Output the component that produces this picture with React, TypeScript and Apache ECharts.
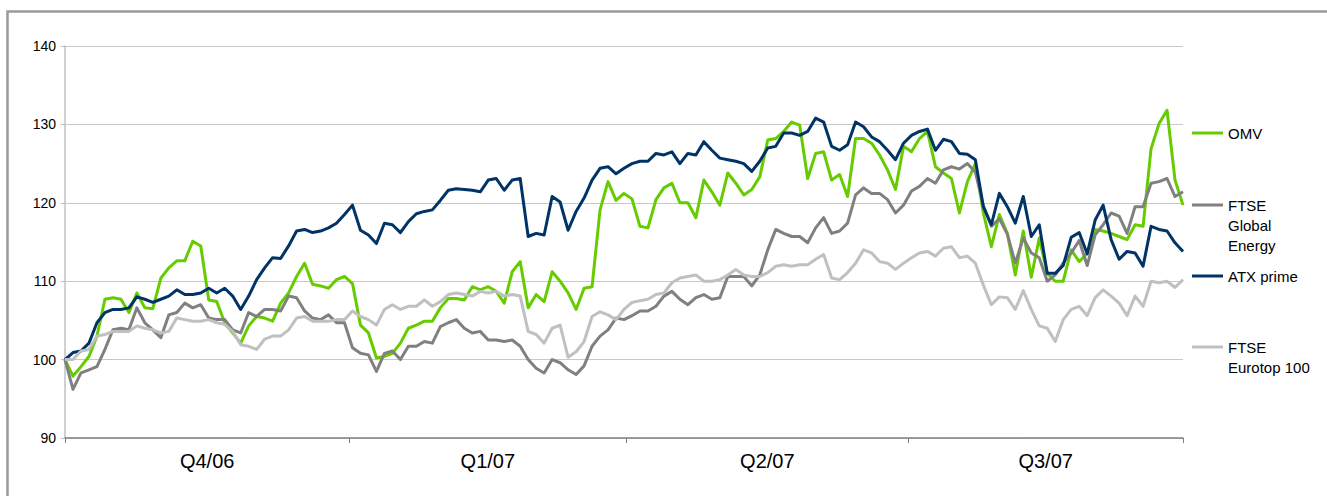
import React, { useEffect, useRef } from "react";
import * as echarts from "echarts";

const quarters = ["Q4/06", "Q1/07", "Q2/07", "Q3/07"];
// trading-day index where each quarter starts (last value = end of period)
const quarterBounds = [0, 35.6, 70.3, 105.6, 140];
const yTicks = [90, 100, 110, 120, 130, 140];
const seriesNames = ["OMV", "FTSE Global Energy", "ATX prime", "FTSE Eurotop 100"];
const legendLabels = ["OMV", "FTSE\nGlobal\nEnergy", "ATX prime", "FTSE\nEurotop 100"];

const omv = [
  100, 97.9, 99.1, 100.4, 103.0, 107.7, 107.9, 107.7, 106.0, 108.5,
  106.6, 106.5, 110.4, 111.7, 112.6, 112.6, 115.1, 114.5, 107.6, 107.4,
  104.7, 103.4, 102.1, 104.3, 105.5, 105.3, 104.9, 107.2, 108.5, 110.6,
  112.3, 109.6, 109.4, 109.1, 110.2, 110.6, 109.7, 104.4, 103.4, 100.2,
  100.4, 100.8, 102.1, 104.0, 104.4, 104.9, 104.9, 106.6, 107.8, 107.8,
  107.6, 109.3, 108.9, 109.3, 108.7, 107.2, 111.2, 112.5, 106.6, 108.3,
  107.4, 111.2, 110.0, 108.5, 106.4, 109.1, 109.3, 119.1, 122.7, 120.3,
  121.2, 120.5, 117.0, 116.8, 120.4, 121.9, 122.5, 120.0, 120.0, 118.1,
  122.9, 121.4, 119.7, 123.8, 122.5, 121.0, 121.7, 123.3, 128.0, 128.2,
  129.1, 130.3, 129.9, 123.1, 126.3, 126.5, 122.9, 123.6, 120.8, 128.2,
  128.2, 127.6, 126.1, 124.2, 121.7, 127.2, 126.5, 128.2, 129.1, 124.6,
  123.8, 123.1, 118.7, 122.7, 125.0, 118.7, 114.4, 118.5, 116.1, 110.8,
  116.4, 110.5, 115.5, 111.0, 110.0, 110.0, 114.0, 112.5, 113.5, 116.6,
  116.4, 116.1, 115.7, 115.3, 117.2, 117.0, 126.9, 130.1, 131.8, 122.9,
  119.7,
];

const globalEnergy = [
  100, 96.2, 98.3, 98.7, 99.1, 101.3, 103.8, 104.0, 103.8, 106.6,
  104.7, 103.8, 102.8, 105.7, 106.0, 107.2, 106.6, 107.0, 105.3, 105.1,
  105.1, 103.8, 103.4, 106.0, 105.5, 106.4, 106.4, 106.2, 108.1, 107.9,
  106.2, 105.3, 105.1, 105.7, 104.7, 104.7, 101.5, 100.8, 100.6, 98.5,
  100.8, 101.1, 100.0, 101.7, 101.7, 102.3, 102.1, 104.2, 104.7, 105.1,
  104.0, 103.4, 103.6, 102.5, 102.5, 102.3, 102.5, 101.7, 100.0, 98.9,
  98.3, 100.0, 99.6, 98.7, 98.1, 99.2, 101.7, 103.0, 103.8, 105.3,
  105.1, 105.6, 106.2, 106.2, 106.8, 108.1, 108.7, 107.7, 107.0, 107.9,
  108.3, 107.7, 107.9, 110.6, 110.6, 110.6, 109.4, 110.8, 114.0, 116.6,
  116.1, 115.7, 115.7, 114.9, 116.8, 118.1, 116.1, 116.4, 117.4, 121.0,
  121.9, 121.2, 121.2, 120.4, 118.7, 119.7, 121.5, 122.1, 123.1, 122.5,
  124.2, 124.6, 124.3, 125.0, 123.9, 119.6, 117.0, 118.0, 116.0, 112.3,
  115.5, 113.6, 113.0, 110.0, 110.8, 112.3, 113.6, 115.2, 112.0, 115.9,
  117.2, 118.7, 118.3, 116.1, 119.5, 119.5, 122.5, 122.7, 123.1, 120.8,
  121.4,
];

const atxPrime = [
  100, 100.9, 101.1, 102.1, 104.7, 106.0, 106.4, 106.4, 106.6, 108.0,
  107.7, 107.3, 107.7, 108.1, 108.9, 108.3, 108.3, 108.5, 109.1, 108.5,
  109.1, 108.1, 106.4, 108.1, 110.2, 111.7, 113.0, 112.9, 114.5, 116.4,
  116.6, 116.2, 116.4, 116.8, 117.4, 118.5, 119.7, 116.5, 115.9, 114.8,
  117.4, 117.2, 116.2, 117.6, 118.6, 118.9, 119.1, 120.3, 121.6, 121.8,
  121.7, 121.6, 121.4, 122.9, 123.1, 121.6, 122.9, 123.1, 115.7, 116.1,
  115.9, 120.8, 120.1, 116.5, 118.9, 120.6, 122.9, 124.4, 124.6, 123.7,
  124.4, 125.0, 125.3, 125.3, 126.3, 126.1, 126.5, 125.0, 126.3, 126.1,
  127.8, 126.7, 125.7, 125.5, 125.3, 125.0, 124.0, 125.3, 127.0, 127.2,
  128.9, 128.9, 128.6, 129.1, 130.8, 130.3, 127.2, 126.7, 127.4, 130.3,
  129.7, 128.4, 127.8, 126.7, 125.5, 127.6, 128.6, 129.1, 129.4, 126.7,
  128.1, 127.8, 126.3, 126.2, 125.5, 119.5, 117.2, 121.2, 119.5, 117.4,
  120.8, 115.7, 117.2, 111.0, 111.0, 112.0, 115.6, 116.2, 113.5, 117.8,
  119.7, 115.3, 112.8, 113.8, 113.6, 111.9, 117.0, 116.6, 116.4, 114.9,
  113.8,
];

const eurotop = [
  100, 100.0, 101.1, 101.3, 103.0, 103.2, 103.6, 103.6, 103.6, 104.3,
  104.0, 103.8, 103.4, 103.6, 105.3, 105.1, 104.9, 104.9, 105.1, 104.7,
  104.5, 103.6, 101.9, 101.7, 101.3, 102.6, 103.0, 103.0, 103.8, 105.3,
  105.5, 104.9, 104.9, 104.9, 105.1, 105.1, 106.2, 105.5, 105.1, 104.4,
  106.4, 107.0, 106.4, 106.8, 106.8, 107.6, 106.8, 107.4, 108.3, 108.5,
  108.3, 108.1, 108.7, 108.5, 108.7, 108.1, 108.3, 108.1, 103.6, 103.2,
  102.1, 104.0, 104.4, 100.3, 101.0, 102.3, 105.5, 106.1, 105.7, 105.1,
  106.4, 107.3, 107.5, 107.7, 108.3, 108.5, 109.8, 110.4, 110.6, 110.8,
  110.0, 110.0, 110.2, 110.8, 111.5, 110.8, 110.6, 110.6, 111.1, 111.9,
  112.1, 111.9, 112.1, 112.1, 112.8, 113.4, 110.4, 110.2, 111.1, 112.3,
  114.0, 113.6, 112.5, 112.3, 111.5, 112.3, 113.0, 113.6, 113.8, 113.2,
  114.2, 114.4, 113.0, 113.2, 112.3, 109.5, 107.0, 108.0, 107.9, 106.4,
  108.8, 106.4, 104.3, 104.0, 102.3, 105.1, 106.4, 106.8, 105.6, 107.9,
  108.9, 108.1, 107.2, 105.6, 108.1, 106.8, 110.0, 109.8, 110.0, 109.2,
  110.2,
];

const allSeries = [omv, globalEnergy, atxPrime, eurotop];
const colors = ["#66cc00", "#808080", "#003366", "#c0c0c0"];
const FONT = '"Liberation Sans", Arial, sans-serif';

export default function App() {
  const ref = useRef<HTMLDivElement>(null);

  useEffect(() => {
    if (!ref.current) return;
    const chart = echarts.init(ref.current, undefined, { renderer: "svg" });
    const lastIndex = omv.length - 1;
    const labelCenters = quarters.map((_, q) => (quarterBounds[q] + quarterBounds[q + 1]) / 2);
    const labelFor = (v: number) => {
      let best = 0;
      labelCenters.forEach((c, q) => {
        if (Math.abs(c - v) < Math.abs(labelCenters[best] - v)) best = q;
      });
      return quarters[best];
    };

    const legendTops = [133, 205, 276, 347];
    const legendGraphics: any[] = [];
    legendLabels.forEach((label, k) => {
      const y = legendTops[k];
      legendGraphics.push({
        type: "line",
        shape: { x1: 1192, y1: y, x2: 1223, y2: y },
        style: { stroke: colors[k], lineWidth: 3 },
        silent: true,
      });
      legendGraphics.push({
        type: "text",
        x: 1228,
        y: y - 10,
        style: {
          text: label,
          fill: "#000",
          font: `15px ${FONT}`,
          lineHeight: 20,
          verticalAlign: "top",
          textVerticalAlign: "top",
          align: "left",
        },
        silent: true,
      });
    });

    chart.setOption({
      animation: false,
      backgroundColor: "#ffffff",
      textStyle: { fontFamily: FONT },
      grid: { left: 65, right: 144, top: 46, bottom: 58, containLabel: false },
      xAxis: {
        type: "value",
        min: 0,
        max: lastIndex,
        axisLine: { show: true, onZero: false, lineStyle: { color: "#808080", width: 1.5 } },
        axisTick: {
          show: true,
          length: 5,
          customValues: quarterBounds,
          lineStyle: { color: "#808080" },
        },
        axisLabel: {
          fontSize: 20,
          color: "#000",
          margin: 13,
          fontFamily: FONT,
          customValues: labelCenters,
          formatter: (v: number) => labelFor(v),
        },
        splitLine: { show: false },
      },
      yAxis: {
        type: "value",
        min: yTicks[0],
        max: yTicks[yTicks.length - 1],
        interval: 10,
        axisLine: { show: true, lineStyle: { color: "#c0c0c0", width: 1.5 } },
        axisTick: { show: true, length: 4, lineStyle: { color: "#c0c0c0" } },
        axisLabel: { fontSize: 14, color: "#000", margin: 9, fontFamily: FONT },
        splitLine: { show: true, lineStyle: { color: "#c8c8c8", width: 1 } },
      },
      series: allSeries.map((arr, k) => ({
        name: seriesNames[k],
        type: "line",
        data: arr.map((v, i) => [i, v]),
        showSymbol: false,
        symbol: "none",
        smooth: false,
        lineStyle: { color: colors[k], width: 3, join: "round" },
        itemStyle: { color: colors[k] },
        z: 2 + k,
      })),
      graphic: [
        {
          type: "rect",
          shape: { x: 7.5, y: 11.5, width: 1340, height: 500 },
          style: { fill: "none", stroke: "#9a9a9a", lineWidth: 2.5 },
          silent: true,
          z: -1,
        },
        ...legendGraphics,
      ],
    });

    return () => chart.dispose();
  }, []);

  return (
    <div
      ref={ref}
      style={{ position: "absolute", left: 0, top: 0, width: 1327, height: 496 }}
    />
  );
}
